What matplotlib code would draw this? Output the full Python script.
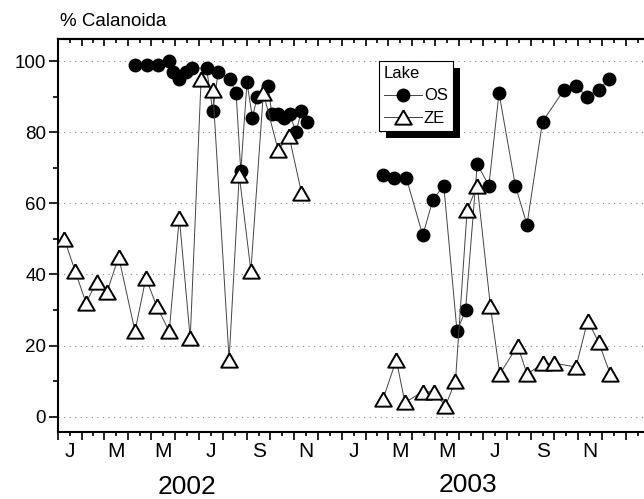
import matplotlib
matplotlib.use("Agg")
import matplotlib.pyplot as plt
import matplotlib.dates as mdates
import matplotlib.ticker as mticker
from matplotlib.patches import Rectangle
from matplotlib.transforms import IdentityTransform
import pandas as pd

plt.rcParams["font.family"] = ["Liberation Sans", "DejaVu Sans"]

# % Calanoida, lake OS (filled circles)
os_dates_2002 = ["2002-04-10", "2002-04-25", "2002-05-09", "2002-05-24", "2002-05-29",
                 "2002-06-06", "2002-06-15", "2002-06-22", "2002-07-11", "2002-07-19",
                 "2002-07-26", "2002-08-10", "2002-08-18", "2002-08-24", "2002-09-01",
                 "2002-09-08", "2002-09-14", "2002-09-28", "2002-10-03", "2002-10-11",
                 "2002-10-18", "2002-10-26", "2002-11-03", "2002-11-10", "2002-11-17"]
os_values_2002 = [99, 99, 99, 100, 97, 95, 97, 98, 98, 86, 97, 95, 91, 69, 94,
                  84, 90, 93, 85, 85, 84, 85, 80, 86, 83]
os_dates_2003 = ["2003-02-23", "2003-03-09", "2003-03-25", "2003-04-15", "2003-04-28",
                 "2003-05-12", "2003-05-29", "2003-06-09", "2003-06-24", "2003-07-09",
                 "2003-07-22", "2003-08-12", "2003-08-27", "2003-09-16", "2003-10-14",
                 "2003-10-29", "2003-11-12", "2003-11-27", "2003-12-11"]
os_values_2003 = [68, 67, 67, 51, 61, 65, 24, 30, 71, 65, 91, 65, 54, 83, 92,
                  93, 90, 92, 95]

# % Calanoida, lake ZE (open triangles)
ze_dates_2002 = ["2002-01-09", "2002-01-23", "2002-02-06", "2002-02-20", "2002-03-05",
                 "2002-03-20", "2002-04-10", "2002-04-24", "2002-05-08", "2002-05-24",
                 "2002-06-06", "2002-06-20", "2002-07-04", "2002-07-19", "2002-08-09",
                 "2002-08-22", "2002-09-06", "2002-09-22", "2002-10-11", "2002-10-25",
                 "2002-11-10"]
ze_values_2002 = [50, 41, 32, 38, 35, 45, 24, 39, 31, 24, 56, 22, 95, 92, 16,
                  68, 41, 91, 75, 79, 63]
ze_dates_2003 = ["2003-02-23", "2003-03-12", "2003-03-23", "2003-04-15", "2003-04-30",
                 "2003-05-14", "2003-05-27", "2003-06-11", "2003-06-24", "2003-07-11",
                 "2003-07-23", "2003-08-15", "2003-08-27", "2003-09-17", "2003-10-01",
                 "2003-10-29", "2003-11-13", "2003-11-27", "2003-12-12"]
ze_values_2003 = [5, 16, 4, 7, 7, 3, 10, 58, 65, 31, 12, 20, 12, 15, 15,
                  14, 27, 21, 12]

month_letters = ["J", "F", "M", "A", "M", "J", "J", "A", "S", "O", "N", "D"]
years = ["2002", "2003"]

fig = plt.figure(figsize=(6.44, 4.99), dpi=100)
ax = fig.add_axes([58 / 644, 67 / 499, 588 / 644, 393 / 499])

line_kw = dict(color="#444444", lw=0.7)
circle_kw = dict(marker="o", ms=10, mfc="black", mec="black", mew=0)
tri = [(0, 0.866), (-1, -0.866), (1, -0.866), (0, 0.866)]
tri_kw = dict(marker=tri, ms=11.9, mfc="white", mec="black", mew=1.4)

h_os = None
h_ze = None
for d, v in [(os_dates_2002, os_values_2002), (os_dates_2003, os_values_2003)]:
    (h_os,) = ax.plot(pd.to_datetime(d), v, zorder=3, **line_kw, **circle_kw)
for d, v in [(ze_dates_2002, ze_values_2002), (ze_dates_2003, ze_values_2003)]:
    (h_ze,) = ax.plot(pd.to_datetime(d), v, zorder=4, **line_kw, **tri_kw)

ax.set_xlim(pd.Timestamp("2002-01-01"), pd.Timestamp("2004-01-27"))
ax.set_ylim(-4.3, 106.2)

# month ticks: long at month start, short mid-month with letter labels
starts = pd.date_range("2002-01-01", "2004-02-01", freq="MS")
mids = starts[:-1] + (starts[1:] - starts[:-1]) / 2
major_pos = mdates.date2num(starts)
minor_pos = mdates.date2num(mids)


def month_label(v, pos):
    d = mdates.num2date(v)
    if d.year > 2003 or d.month % 2 == 0:
        return ""
    return month_letters[d.month - 1]


ax.xaxis.set_major_locator(mticker.FixedLocator(major_pos))
ax.xaxis.set_minor_locator(mticker.FixedLocator(minor_pos))
ax.xaxis.set_major_formatter(mticker.NullFormatter())
ax.xaxis.set_minor_formatter(mticker.FuncFormatter(month_label))
ax.tick_params(axis="x", which="major", direction="out", length=6, width=1.2)
ax.tick_params(axis="x", which="minor", direction="out", length=3, width=1.2,
               labelsize=15, pad=4)

top = ax.secondary_xaxis("top")
top.xaxis.set_major_locator(mticker.FixedLocator(major_pos))
top.xaxis.set_minor_locator(mticker.FixedLocator(minor_pos))
top.xaxis.set_major_formatter(mticker.NullFormatter())
top.xaxis.set_minor_formatter(mticker.NullFormatter())
top.tick_params(which="major", direction="in", length=5, width=1.2)
top.tick_params(which="minor", direction="in", length=3, width=1.2)
top.spines["top"].set_linewidth(1.5)

ax.yaxis.set_major_locator(mticker.MultipleLocator(20))
ax.yaxis.set_minor_locator(mticker.MultipleLocator(10))
ax.tick_params(axis="y", which="major", direction="out", length=6.5, width=1.2,
               labelsize=13.5, pad=2)
ax.tick_params(axis="y", which="minor", direction="out", length=3.6, width=1.2)
ax.yaxis.grid(True, which="major", linestyle=(0, (1, 4)), color="#888888", lw=0.8)
ax.set_axisbelow(True)

for s in ["left", "bottom", "top"]:
    ax.spines[s].set_linewidth(1.5)
ax.spines["right"].set_visible(False)

fig.text(60 / 644, 1 - 26 / 499, "% Calanoida", fontsize=13.5, va="baseline", ha="left")
fig.text(187 / 644, 5 / 499, years[0], fontsize=19, ha="center", va="baseline")
fig.text(468 / 644, 7 / 499, years[1], fontsize=19, ha="center", va="baseline")

leg = ax.legend([h_os, h_ze], ["OS", "ZE"], title="Lake", alignment="left",
                loc="upper left", bbox_to_anchor=((379 - 58) / 588, (432 - 61) / 393),
                borderaxespad=0, fontsize=12, title_fontsize=12, frameon=True,
                fancybox=False, framealpha=1, edgecolor="black",
                handlelength=2.3, handletextpad=0.1, borderpad=0.3,
                labelspacing=0.45)
leg.get_frame().set_linewidth(0.8)

fig.canvas.draw()
bb = leg.get_window_extent(fig.canvas.get_renderer())
shadow = Rectangle((bb.x0 + 7, bb.y0 - 7), bb.width, bb.height, facecolor="black",
                   edgecolor="none", transform=IdentityTransform(), zorder=4.9,
                   clip_on=False)
ax.add_artist(shadow)

fig.savefig("out.png", dpi=100)
